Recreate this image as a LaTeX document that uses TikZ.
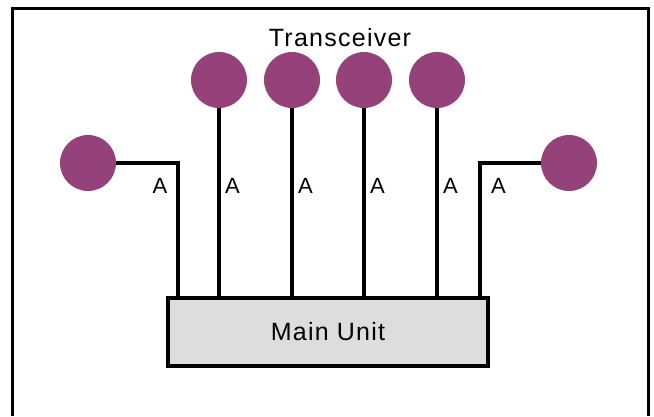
\documentclass[tikz,border=0pt]{standalone}
\usepackage{fontspec}
\setmainfont{Liberation Sans}
\newfontfamily\spacedfont[LetterSpace=5]{Liberation Sans}
\usetikzlibrary{positioning}
\definecolor{antennaPurple}{RGB}{150, 66, 122}
\definecolor{unitGray}{RGB}{221, 221, 221}

\begin{document}
\begin{tikzpicture}[
  x=1pt, y=-1pt,
  antenna/.style={
    circle,
    fill=antennaPurple,
    minimum size=56pt,
    inner sep=0pt
  },
  unit/.style={
    draw,
    line width=3.8pt,
    fill=unitGray,
    minimum width=320pt,
    minimum height=68pt,
    font=\spacedfont\fontsize{25}{29}\selectfont
  },
  link/.style={line width=3.4pt},
  tag/.style={font=\spacedfont\fontsize{22}{26}\selectfont, inner sep=0pt}
]
  \useasboundingbox (0,0) rectangle (654,416);
  \draw[line width=3pt] (12,416) -- (12,8) -- (648,8) -- (648,416);

  \node[unit] (main) at (328,332) {Main Unit};

  \node[antenna] (t1) at (219,80) {};
  \node[antenna] (t2) at (292,80) {};
  \node[antenna] (t3) at (364,80) {};
  \node[antenna] (t4) at (437,80) {};
  \node[antenna] (tl) at (88,163) {};
  \node[antenna] (tr) at (569,163) {};
  \node[font=\spacedfont\fontsize{25}{29}\selectfont] (title) at (340,38) {Transceiver};

  \coordinate (kl) at (178,298);
  \coordinate (kr) at (480,298);
  \draw[link] (tl.east) -| (kl);
  \draw[link] (tr.west) -| (kr);
  \foreach \t in {t1,t2,t3,t4}
    \draw[link] (\t.south) -- (\t |- main.north);

  \node[tag] (al) at (160,186) {A};
  \node[tag,anchor=west] (a1) at (225,186) {A};
  \node[tag,anchor=west] (a2) at (298,186) {A};
  \node[tag,anchor=west] (a3) at (370,186) {A};
  \node[tag,anchor=west] (a4) at (443,186) {A};
  \node[tag,anchor=west] (ar) at (491,186) {A};
\end{tikzpicture}
\end{document}
